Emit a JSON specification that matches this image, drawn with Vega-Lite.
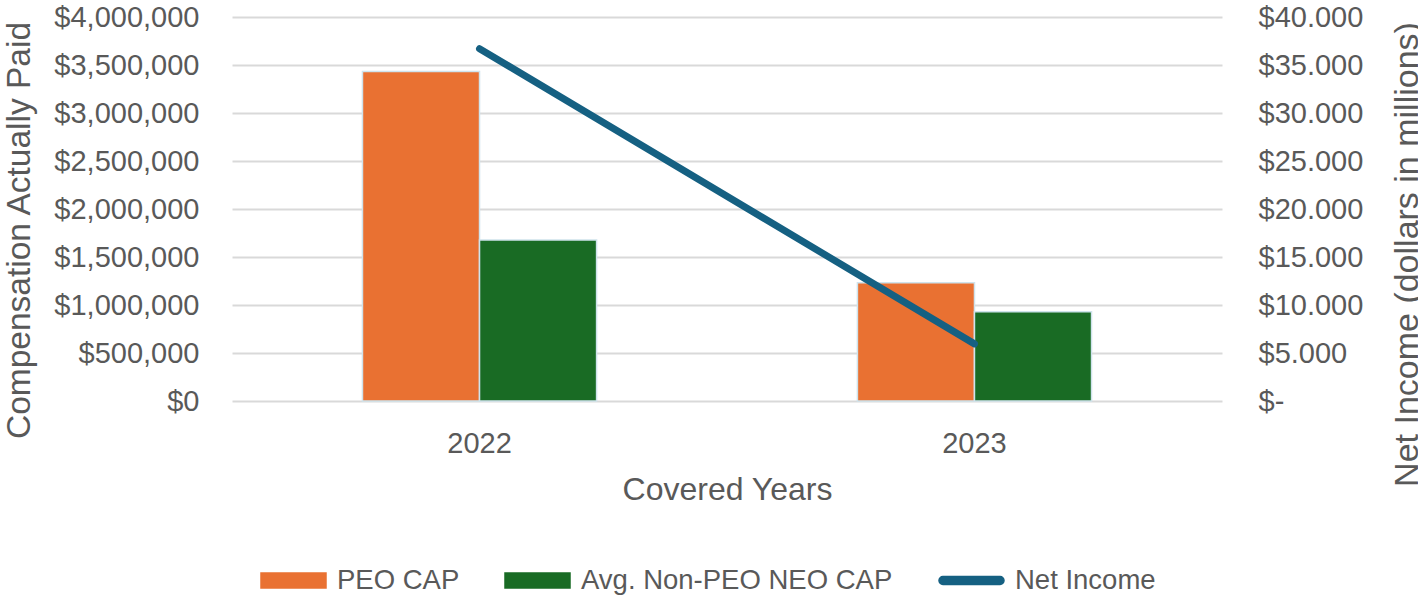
{
  "$schema": "https://vega.github.io/schema/vega-lite/v6.json",
  "width": 990,
  "height": 384,
  "autosize": {"type": "none"},
  "padding": {"left": 232, "top": 17, "right": 196, "bottom": 195},
  "config": {
    "view": {"stroke": null},
    "font": "Liberation Sans",
    "axis": {
      "labelColor": "#595959",
      "titleColor": "#595959",
      "labelFontSize": 29,
      "titleFontSize": 32,
      "titleFontWeight": "normal",
      "ticks": false,
      "domain": false
    }
  },
  "datasets": {
    "cap": [
      {"year": "2022", "series": "PEO CAP", "value": 3432000},
      {"year": "2022", "series": "Avg. Non-PEO NEO CAP", "value": 1677000},
      {"year": "2023", "series": "PEO CAP", "value": 1232000},
      {"year": "2023", "series": "Avg. Non-PEO NEO CAP", "value": 930000}
    ],
    "ni": [
      {"year": "2022", "series": "Net Income", "net_income": 36.7},
      {"year": "2023", "series": "Net Income", "net_income": 5.95}
    ]
  },
  "layer": [
    {
      "data": {"name": "cap"},
      "mark": {"type": "bar", "stroke": "#cfe3ec", "strokeWidth": 1.5},
      "encoding": {
        "x": {
          "field": "year",
          "type": "nominal",
          "scale": {"paddingInner": 0.527, "paddingOuter": 0.2636},
          "axis": {
            "labelAngle": 0,
            "labelPadding": 28,
            "grid": false,
            "title": "Covered Years",
            "titleY": 98,
            "titleBaseline": "alphabetic"
          }
        },
        "xOffset": {
          "field": "series",
          "type": "nominal",
          "sort": ["PEO CAP", "Avg. Non-PEO NEO CAP"],
          "scale": {"paddingInner": 0, "paddingOuter": 0}
        },
        "y": {
          "field": "value",
          "type": "quantitative",
          "scale": {"domain": [0, 4000000]},
          "axis": {
            "values": [0, 500000, 1000000, 1500000, 2000000, 2500000, 3000000, 3500000, 4000000],
            "format": "$,.0f",
            "grid": true,
            "gridColor": "#d9d9d9",
            "gridWidth": 2,
            "labelPadding": 33,
            "title": "Compensation Actually Paid",
            "titleFontSize": 33.5,
            "titleAngle": -90,
            "titleX": -213,
            "titleY": 213,
            "titleAlign": "center",
            "titleBaseline": "middle"
          }
        },
        "color": {
          "field": "series",
          "type": "nominal",
          "scale": {
            "domain": ["PEO CAP", "Avg. Non-PEO NEO CAP", "Net Income"],
            "range": ["#E97132", "#196B24", "#156082"]
          },
          "legend": {
            "orient": "none",
            "legendX": 28,
            "legendY": 530,
            "direction": "horizontal",
            "title": null,
            "padding": 0,
            "symbolSize": 4225,
            "symbolType": "M-1,-0.23H1V0.23H-1Z",
            "symbolStrokeColor": "#cfe3ec",
            "symbolStrokeWidth": 1.5,
            "symbolOpacity": 1,
            "labelFontSize": 27.5,
            "labelColor": "#595959",
            "labelOffset": 10,
            "labelLimit": 500,
            "columnPadding": 42,
            "encode": {
              "symbols": {
                "enter": {
                  "shape": {"signal": "datum.value == 'Net Income' ? 'M-0.88,-0.12H0.88A0.12,0.12,0,0,1,0.88,0.12H-0.88A0.12,0.12,0,0,1,-0.88,-0.12Z' : 'M-1,-0.23H1V0.23H-1Z'"}
                },
                "update": {
                  "shape": {"signal": "datum.value == 'Net Income' ? 'M-0.88,-0.12H0.88A0.12,0.12,0,0,1,0.88,0.12H-0.88A0.12,0.12,0,0,1,-0.88,-0.12Z' : 'M-1,-0.23H1V0.23H-1Z'"},
                  "fill": {"scale": "color", "field": "value"},
                  "stroke": {"signal": "datum.value == 'Net Income' ? 'transparent' : '#cfe3ec'"},
                  "strokeWidth": {"value": 1.5},
                  "opacity": {"value": 1}
                }
              }
            }
          }
        }
      }
    },
    {
      "data": {"name": "ni"},
      "mark": {"type": "line", "strokeWidth": 7, "strokeCap": "round"},
      "encoding": {
        "x": {"field": "year", "type": "nominal"},
        "y": {
          "field": "net_income",
          "type": "quantitative",
          "scale": {"domain": [0, 40]},
          "axis": {
            "orient": "right",
            "values": [0, 5, 10, 15, 20, 25, 30, 35, 40],
            "labelExpr": "datum.value == 0 ? '$-' : '$' + format(datum.value, '.3f')",
            "grid": false,
            "labelPadding": 36,
            "title": "Net Income (dollars in millions)",
            "titleFontSize": 34,
            "titleAngle": -90,
            "titleX": 185,
            "titleY": 237,
            "titleAlign": "center",
            "titleBaseline": "middle"
          }
        },
        "color": {"field": "series", "type": "nominal"}
      }
    }
  ],
  "resolve": {"scale": {"y": "independent"}}
}
